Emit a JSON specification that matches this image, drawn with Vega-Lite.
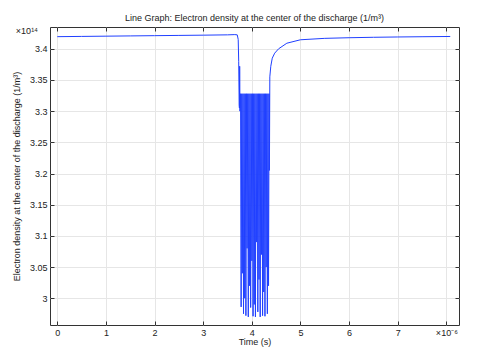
{
  "$schema": "https://vega.github.io/schema/vega-lite/v6.json",
  "width": 409,
  "height": 298,
  "autosize": {"type": "none"},
  "padding": {"left": 50, "top": 27, "right": 33, "bottom": 25},
  "background": "white",
  "config": {
    "font": "Liberation Sans",
    "view": {"stroke": "#333333", "strokeWidth": 1},
    "axis": {
      "labelFont": "Liberation Sans",
      "titleFont": "Liberation Sans",
      "labelFontSize": 9,
      "titleFontSize": 9,
      "labelColor": "#222222",
      "titleColor": "#222222",
      "titleFontWeight": "normal",
      "gridColor": "#e6e6e6",
      "gridWidth": 1,
      "tickColor": "#333333",
      "domainColor": "#333333"
    }
  },
  "title": {
    "text": "Line Graph: Electron density at the center of the discharge (1/m³)",
    "font": "Liberation Sans",
    "fontSize": 9,
    "fontWeight": "normal",
    "color": "#222222",
    "offset": 4,
    "anchor": "middle"
  },
  "datasets": {
    "series": [
      {"t": 0.0, "n": 3.4195},
      {"t": 0.5, "n": 3.4199},
      {"t": 1.0, "n": 3.4203},
      {"t": 1.5, "n": 3.4207},
      {"t": 2.0, "n": 3.4211},
      {"t": 2.5, "n": 3.4215},
      {"t": 3.0, "n": 3.4219},
      {"t": 3.5, "n": 3.4224},
      {"t": 3.65, "n": 3.4228},
      {"t": 3.70, "n": 3.4224},
      {"t": 3.72, "n": 3.415},
      {"t": 3.73, "n": 3.38},
      {"t": 3.74, "n": 3.31},
      {"t": 3.745, "n": 3.305},
      {"t": 3.75, "n": 3.372},
      {"t": 3.756, "n": 3.30},
      {"t": 3.7680, "n": 3.328},
      {"t": 3.7802, "n": 2.986},
      {"t": 3.7925, "n": 3.328},
      {"t": 3.8047, "n": 3.04},
      {"t": 3.8170, "n": 3.328},
      {"t": 3.8292, "n": 2.975},
      {"t": 3.8415, "n": 3.328},
      {"t": 3.8537, "n": 3.00},
      {"t": 3.8660, "n": 3.328},
      {"t": 3.8782, "n": 2.972},
      {"t": 3.8905, "n": 3.328},
      {"t": 3.9027, "n": 3.08},
      {"t": 3.9150, "n": 3.328},
      {"t": 3.9272, "n": 2.970},
      {"t": 3.9395, "n": 3.328},
      {"t": 3.9517, "n": 3.02},
      {"t": 3.9640, "n": 3.328},
      {"t": 3.9762, "n": 2.985},
      {"t": 3.9885, "n": 3.328},
      {"t": 4.0007, "n": 3.06},
      {"t": 4.0130, "n": 3.328},
      {"t": 4.0252, "n": 2.971},
      {"t": 4.0375, "n": 3.328},
      {"t": 4.0497, "n": 2.99},
      {"t": 4.0620, "n": 3.328},
      {"t": 4.0742, "n": 2.970},
      {"t": 4.0865, "n": 3.328},
      {"t": 4.0987, "n": 3.09},
      {"t": 4.1110, "n": 3.328},
      {"t": 4.1232, "n": 2.978},
      {"t": 4.1355, "n": 3.328},
      {"t": 4.1477, "n": 3.03},
      {"t": 4.1600, "n": 3.328},
      {"t": 4.1722, "n": 2.970},
      {"t": 4.1845, "n": 3.328},
      {"t": 4.1967, "n": 3.07},
      {"t": 4.2090, "n": 3.328},
      {"t": 4.2212, "n": 2.972},
      {"t": 4.2335, "n": 3.328},
      {"t": 4.2457, "n": 3.01},
      {"t": 4.2580, "n": 3.328},
      {"t": 4.2702, "n": 2.971},
      {"t": 4.2825, "n": 3.328},
      {"t": 4.2947, "n": 3.05},
      {"t": 4.3070, "n": 3.328},
      {"t": 4.3192, "n": 2.975},
      {"t": 4.3315, "n": 3.328},
      {"t": 4.3437, "n": 3.02},
      {"t": 4.3560, "n": 3.328},
      {"t": 4.362, "n": 3.205},
      {"t": 4.370, "n": 3.355},
      {"t": 4.39, "n": 3.372},
      {"t": 4.42, "n": 3.385},
      {"t": 4.47, "n": 3.393},
      {"t": 4.55, "n": 3.400},
      {"t": 4.72, "n": 3.409},
      {"t": 5.0, "n": 3.4145},
      {"t": 5.5, "n": 3.4168},
      {"t": 6.0, "n": 3.4178},
      {"t": 6.5, "n": 3.4185},
      {"t": 7.0, "n": 3.419},
      {"t": 7.5, "n": 3.4194},
      {"t": 8.08, "n": 3.4198}
    ],
    "note": [{"t": -0.15, "n": 3.435, "label": "×10¹⁴"}]
  },
  "layer": [
    {
      "data": {"name": "series"},
      "mark": {"type": "line", "color": "#2040ff", "strokeWidth": 1, "clip": true},
      "encoding": {
        "x": {
          "field": "t", "type": "quantitative",
          "scale": {"domain": [-0.15, 8.26], "nice": false, "zero": false},
          "axis": {
            "title": "Time (s)",
            "values": [0, 1, 2, 3, 4, 5, 6, 7, 8],
            "labelExpr": "datum.value == 8 ? '×10⁻⁶' : datum.label",
            "tickSize": -4,
            "labelPadding": 7,
            "titlePadding": 0,
            "domain": false
          }
        },
        "y": {
          "field": "n", "type": "quantitative",
          "scale": {"domain": [2.957, 3.435], "nice": false, "zero": false},
          "axis": {
            "title": "Electron density at the center of the discharge (1/m³)",
            "values": [3, 3.05, 3.1, 3.15, 3.2, 3.25, 3.3, 3.35, 3.4],
            "format": "~g",
            "tickSize": -4,
            "labelPadding": 7,
            "titlePadding": 8,
            "domain": false
          }
        }
      }
    },
    {
      "data": {"name": "series"},
      "mark": {"type": "line", "opacity": 0},
      "encoding": {
        "x": {
          "field": "t", "type": "quantitative",
          "scale": {"domain": [-0.15, 8.26], "nice": false, "zero": false},
          "axis": {"orient": "top", "title": null, "labels": false, "grid": false, "domain": false, "tickSize": -4, "values": [0, 1, 2, 3, 4, 5, 6, 7, 8]}
        },
        "y": {
          "field": "n", "type": "quantitative",
          "scale": {"domain": [2.957, 3.435], "nice": false, "zero": false},
          "axis": {"orient": "right", "title": null, "labels": false, "grid": false, "domain": false, "tickSize": -4, "values": [3, 3.05, 3.1, 3.15, 3.2, 3.25, 3.3, 3.35, 3.4]}
        }
      }
    },
    {
      "data": {"name": "note"},
      "mark": {"type": "text", "align": "right", "baseline": "middle", "dx": -12, "dy": 4, "fontSize": 9, "font": "Liberation Sans", "color": "#222222"},
      "encoding": {
        "x": {"field": "t", "type": "quantitative", "axis": null},
        "y": {"field": "n", "type": "quantitative", "axis": null},
        "text": {"field": "label"}
      }
    }
  ],
  "resolve": {"axis": {"x": "independent", "y": "independent"}}
}
